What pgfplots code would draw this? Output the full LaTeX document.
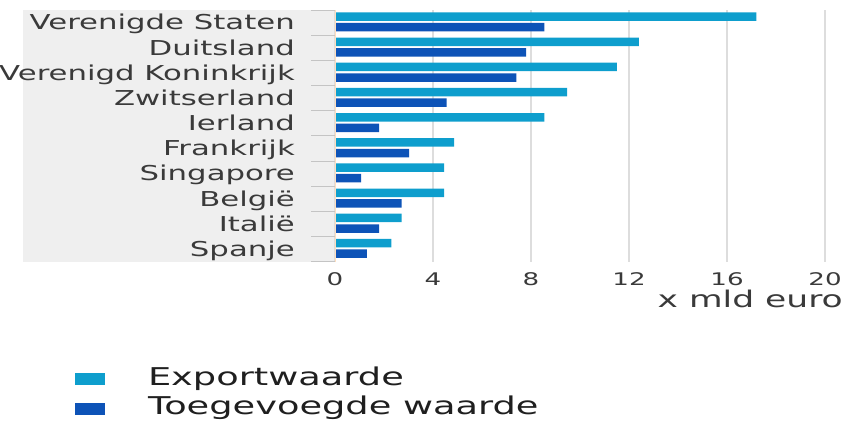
\documentclass[border=0pt]{standalone}
\usepackage{pgfplots}
\pgfplotsset{compat=1.18}
\usepackage{fontspec}
\setmainfont{DejaVu Sans}[FakeStretch=1.5]
\definecolor{expc}{HTML}{0E9ECD}
\definecolor{toec}{HTML}{0D53B7}
\definecolor{panel}{HTML}{EFEFEF}
\definecolor{lab}{HTML}{3A3A3A}
\definecolor{grd}{HTML}{DDDDDD}
\definecolor{sep}{HTML}{C4C4C4}
\begin{document}
\begin{tikzpicture}[x=1bp,y=1bp]
\path[use as bounding box] (0,0) rectangle (846,420);
\fill[panel] (22.7,158.3) rectangle (335,410);
\begin{axis}[
  at={(335bp,158.3bp)}, anchor=south west,
  scale only axis, width=490bp, height=251.7bp,
  xbar, bar width=8.5bp,
  xmin=0, xmax=20, ymin=-0.5, ymax=9.5,
  xtick={0,4,...,20},
  ytick={0,...,9},
  yticklabels={Spanje,Italië,België,Singapore,Frankrijk,Ierland,Zwitserland,Verenigd Koninkrijk,Duitsland,Verenigde Staten},
  minor ytick={-0.5,0.5,...,9.5},
  axis line style={draw=none},
  xmajorgrids, major grid style={grd, line width=1.5bp},
  major tick length=0pt, minor tick length=24bp, tick align=outside,
  ytick pos=left, xtick pos=bottom,
  minor tick style={sep, line width=1bp},
  /pgf/number format/assume math mode=true,
  xticklabel style={anchor=base, inner sep=0pt, yshift=-23.3bp, font=\fontsize{17.4bp}{20bp}\selectfont, text=lab},
  yticklabel style={anchor=base east, inner sep=0pt, xshift=-40bp, yshift=-7.3bp, font=\fontsize{20.5bp}{24bp}\selectfont, text=lab},
  xlabel={x mld euro},
  x label style={at={(axis description cs:1,0)}, anchor=base east, inner sep=0pt, xshift=18bp, yshift=-45.5bp, font=\fontsize{23bp}{27bp}\selectfont, text=lab},
  legend image code/.code={\fill[#1] (0bp,0bp) rectangle (30bp,12bp);},
  legend style={at={(axis description cs:-0.5306,-0.4104)}, anchor=north west, draw=none, fill=none, inner sep=0pt, outer sep=0pt,
    font=\fontsize{24.5bp}{29.5bp}\selectfont, text=black!88, row sep=0pt,
    nodes={inner sep=0pt, text height=20bp, text depth=9.5bp},
    cells={anchor=base west},
    /tikz/every odd column/.append style={column sep=43bp}},
]
\addplot[draw=none, fill=expc, bar shift=6bp] coordinates {
(2.3,0) (2.72,1) (4.45,2) (4.45,3) (4.86,4) (8.55,5) (9.47,6) (11.5,7) (12.4,8) (17.2,9)};
\addlegendentry{Exportwaarde}
\addplot[draw=none, fill=toec, bar shift=-4.6bp] coordinates {
(1.3,0) (1.8,1) (2.72,2) (1.07,3) (3.03,4) (1.8,5) (4.56,6) (7.4,7) (7.8,8) (8.55,9)};
\addlegendentry{Toegevoegde waarde}
\draw[color=orange!25, line width=1bp] (axis cs:0,-0.5) -- (axis cs:0,9.5);
\end{axis}
\end{tikzpicture}
\end{document}
